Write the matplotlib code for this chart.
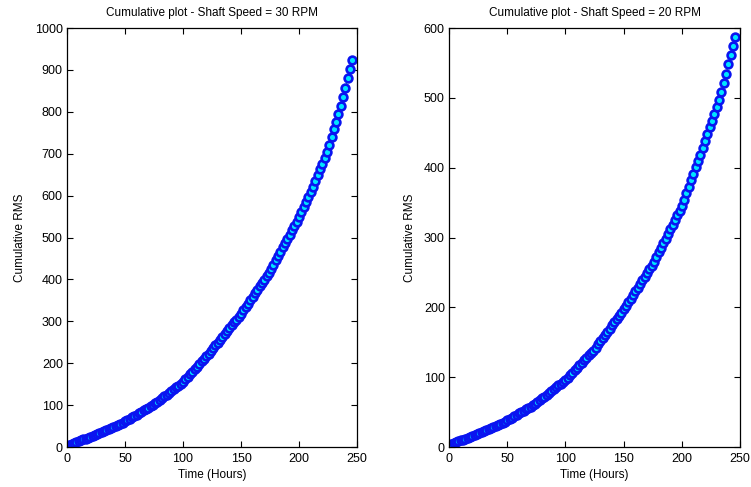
import numpy as np
import matplotlib
matplotlib.use("Agg")
import matplotlib.pyplot as plt

plt.rcParams['font.family'] = ['Liberation Sans', 'DejaVu Sans']

# horas de muestreo (cada 2 horas)
horas = np.arange(0, 247, 2)

# RMS acumulado - 30 RPM
rms_30 = [3, 5.2, 7.3, 9.5, 11.6, 13.8, 16, 18.1, 20.3, 22.4, 24.6, 26.8, 28.9,
          31.2, 33.7, 36.2, 38.7, 41.2, 43.6, 46.1, 48.6, 51.1, 53.6, 56, 58.5, 61,
          64.3, 67.6, 70.8, 74.1, 77.4, 80.7, 84, 87.2, 90.5, 93.8, 97.1, 100.4,
          104.1, 108.4, 112.6, 116.8, 121.1, 125.3, 129.6, 133.8, 138, 142.3, 146.5, 150.8, 155,
          161.2, 167.3, 173.5, 179.6, 185.8, 192, 198.1, 204.3, 210.4, 216.6, 222.8, 228.9,
          235.4, 242.3, 249.2, 256.1, 263, 269.8, 276.7, 283.6, 290.5, 297.4, 304.2, 311.1, 318,
          326.2, 334.3, 342.5, 350.6, 358.8, 367, 375.1, 383.3, 391.4, 399.6, 407.8, 415.9,
          425.1, 435.4, 445.6, 455.8, 466.1, 476.3, 486.6, 496.8, 507, 517.3, 527.5, 537.8, 548,
          560, 572, 584, 596, 608, 620,
          634.2, 648.3, 662.5, 676.6, 690.8, 704.9,
          721.2, 739.6, 758, 776.4, 794.8,
          814.8, 836.4, 858, 879.6, 901.2, 922.8]

# RMS acumulado - 20 RPM
rms_20 = [3, 4.3, 5.6, 6.8, 8.1, 9.4, 10.7, 12, 13.2, 14.5, 15.8, 17.1, 18.4,
          19.8, 21.3, 22.8, 24.3, 25.8, 27.4, 28.9, 30.4, 31.9, 33.4, 35, 36.5, 38,
          40, 42, 44, 46, 48, 50, 52, 54, 56, 58, 60, 62,
          64.3, 67, 69.6, 72.2, 74.9, 77.5, 80.2, 82.8, 85.4, 88.1, 90.7, 93.4, 96,
          99.5, 103, 106.6, 110.1, 113.6, 117.1, 120.6, 124.2, 127.7, 131.2, 134.7, 138.2,
          142.3, 146.8, 151.4, 156, 160.5, 165.1, 169.6, 174.2, 178.8, 183.3, 187.9, 192.4, 197,
          202.2, 207.4, 212.6, 217.8, 223, 228.2, 233.4, 238.6, 243.8, 249, 254.2, 259.4,
          265.3, 272, 278.6, 285.2, 291.9, 298.5, 305.2, 311.8, 318.4, 325.1, 331.7, 338.4, 345,
          354.2, 363.4, 372.7, 381.9, 391.1, 400.3, 409.5, 418.8, 428,
          437.9, 447.7, 457.6, 467.5, 477.3, 487.2, 497.1,
          508.5, 521.6, 534.7, 547.8, 560.9, 574, 587]

fig = plt.figure(figsize=(7.51, 4.87), dpi=100)

paneles = [
    ([0.0892, 0.0821, 0.3862, 0.8604], rms_30, 'Cumulative plot - Shaft Speed = 30 RPM', 1000),
    ([0.5979, 0.0821, 0.3875, 0.8604], rms_20, 'Cumulative plot - Shaft Speed = 20 RPM', 600),
]

for pos, datos, titulo, ymax in paneles:
    ax = fig.add_axes(pos)
    ax.plot(horas, datos, '-', color='#00ff00', lw=0.8,
            marker='o', ms=5.6, mfc='#00e5ff', mec='#0a14f0', mew=1.9)
    ax.set_xlim(0, 250)
    ax.set_ylim(0, ymax)
    ax.set_xticks(range(0, 251, 50))
    ax.set_yticks(range(0, ymax + 1, 100))
    ax.tick_params(direction='in', top=True, right=True, length=4, width=0.8,
                   labelsize=9, pad=3)
    ax.tick_params(axis='x', pad=4)
    for s in ax.spines.values():
        s.set_linewidth(0.9)
    ax.set_title(titulo, fontsize=8.5, pad=9)
    ax.set_xlabel('Time (Hours)', fontsize=8.5, labelpad=3)
    ax.set_ylabel('Cumulative RMS', fontsize=8.5, labelpad=6)

fig.savefig('out.png', dpi=100)
